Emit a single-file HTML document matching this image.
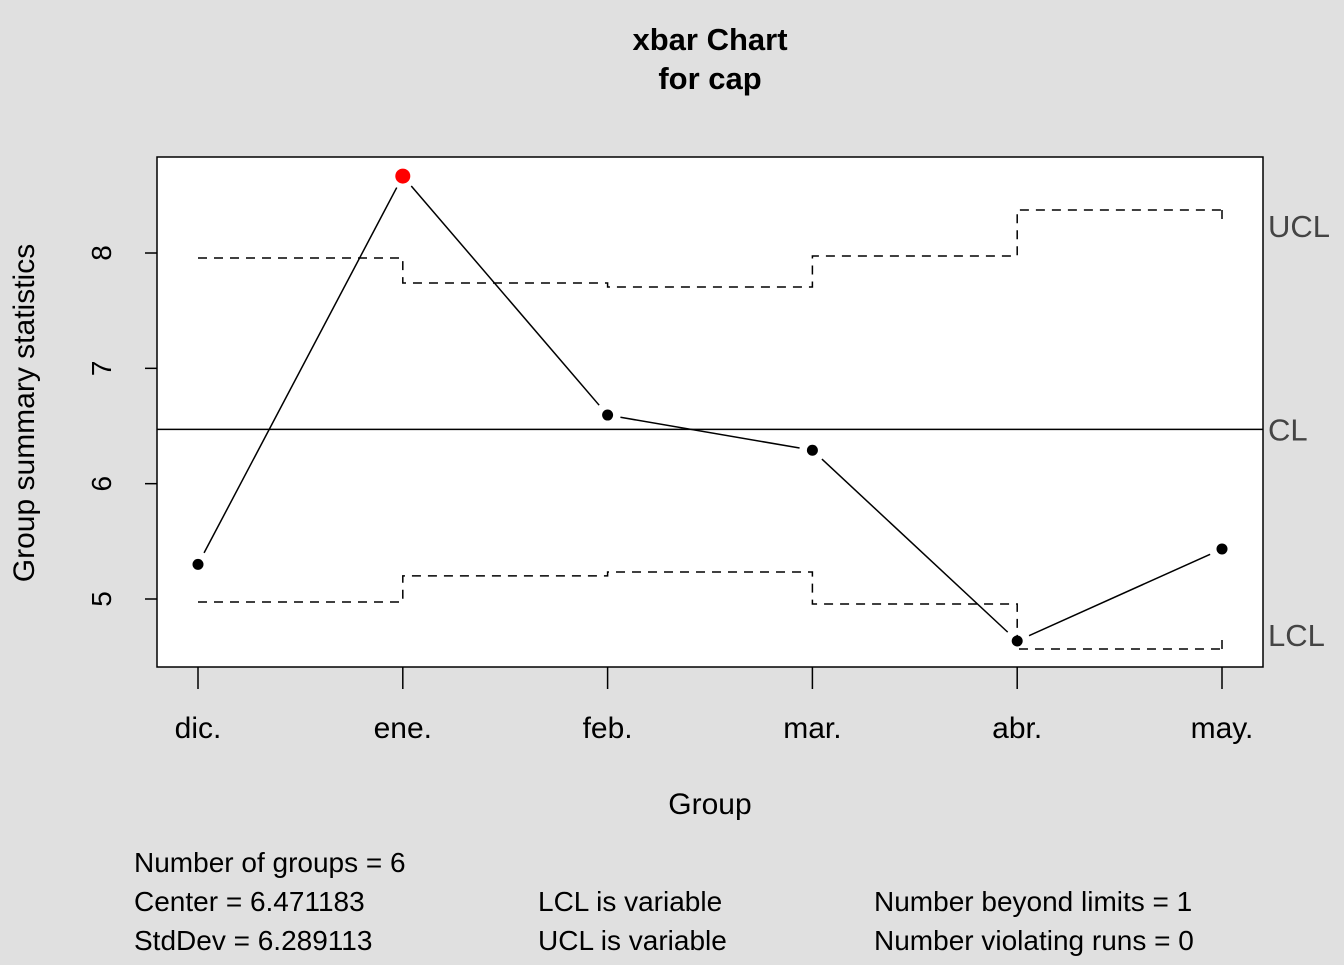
<!DOCTYPE html>
<html><head><meta charset="utf-8"><style>
body{margin:0;background:#e0e0e0;}
svg text{font-family:"Liberation Sans",sans-serif;}
</style></head><body>
<svg width="1344" height="960" xmlns="http://www.w3.org/2000/svg">
<rect width="1344" height="960" fill="#e0e0e0"/>
<text x="710" y="50" font-size="31" font-weight="bold" text-anchor="middle">xbar Chart</text>
<text x="710" y="89" font-size="31" font-weight="bold" text-anchor="middle">for cap</text>
<rect x="157" y="157" width="1106" height="510" fill="#fff" stroke="#000" stroke-width="1.5"/>
<g id="g"></g>
<text x="710" y="814" font-size="30" text-anchor="middle">Group</text>
<text transform="translate(34,413) rotate(-90)" font-size="30" text-anchor="middle">Group summary statistics</text>
<g font-size="28">
<text x="134" y="872">Number of groups = 6</text>
<text x="134" y="911">Center = 6.471183</text>
<text x="134" y="950">StdDev = 6.289113</text>
<text x="538" y="911">LCL is variable</text>
<text x="538" y="950">UCL is variable</text>
<text x="874" y="911">Number beyond limits = 1</text>
<text x="874" y="950">Number violating runs = 0</text>
</g>
</svg>
<script>
const categories=["dic.","ene.","feb.","mar.","abr.","may."];
const values=[5.30,8.667,6.595,6.29,4.636,5.434];
const ucl=[7.957,7.74,7.705,7.974,8.373,8.373];
const lcl=[4.974,5.2,5.234,4.957,4.566,4.566];
const center=6.471183;
const yTicks=[5,6,7,8];
const NS="http://www.w3.org/2000/svg";
const g=document.getElementById('g');
const X=i=>198+i*204.8;
const Y=v=>599-(v-5)*115.33;
function el(t,a){const e=document.createElementNS(NS,t);for(const k in a)e.setAttribute(k,a[k]);g.appendChild(e);return e;}
yTicks.forEach(t=>{
 const l=el('line',{x1:145,x2:157,y1:Y(t),y2:Y(t),stroke:'#000','stroke-width':1.5});
 
 
 const tx=el('text',{transform:`translate(111,${Y(t)}) rotate(-90)`,'font-size':28,'text-anchor':'middle'});tx.textContent=t;
 
 
});
categories.forEach((c,i)=>{
 const l=el('line',{x1:X(i),x2:X(i),y1:667,y2:689,stroke:'#000','stroke-width':1.5});
 
 
 const tx=el('text',{x:X(i),y:738,'font-size':30,'text-anchor':'middle'});tx.textContent=c;
 
 
});
function step(arr,name){
 let d=`M${X(0)},${Y(arr[0])}`;
 for(let i=1;i<arr.length;i++){d+=`H${X(i)}V${Y(arr[i])}`;}
 const last=arr.length-1;
 d+=`M${X(last)},${Y(arr[last])}v${name==='ucl-line'?10:-10}`;
 const p=el('path',{d:d,fill:'none',stroke:'#000','stroke-width':1.5,'stroke-dasharray':'9,7'});
 
 
}
step(ucl,'ucl-line');step(lcl,'lcl-line');
const cl=el('line',{x1:157,x2:1263,y1:Y(center),y2:Y(center),stroke:'#000','stroke-width':1.5});


for(let i=0;i<values.length-1;i++){
 const x1=X(i),y1=Y(values[i]),x2=X(i+1),y2=Y(values[i+1]);
 const dx=x2-x1,dy=y2-y1,L=Math.hypot(dx,dy),o=13;
 const s=el('line',{x1:x1+dx/L*o,y1:y1+dy/L*o,x2:x2-dx/L*o,y2:y2-dy/L*o,stroke:'#000','stroke-width':1.5});
 
 
}
values.forEach((v,i)=>{
 const out=v>ucl[i]||v<lcl[i];
 const c=el('circle',{cx:X(i),cy:Y(v),r:out?7.5:5.5,fill:out?'#f00':'#000'});
 
 
});
const lab=[['UCL',ucl[5]],['CL',center],['LCL',lcl[5]]];
lab.forEach(([t,v])=>{
 const tx=el('text',{x:1268,y:Y(v)+(t==='UCL'?27:t==='LCL'?-3:11),'font-size':31,fill:'#444'});tx.textContent=t;
 
 
});
</script>
</body></html>
